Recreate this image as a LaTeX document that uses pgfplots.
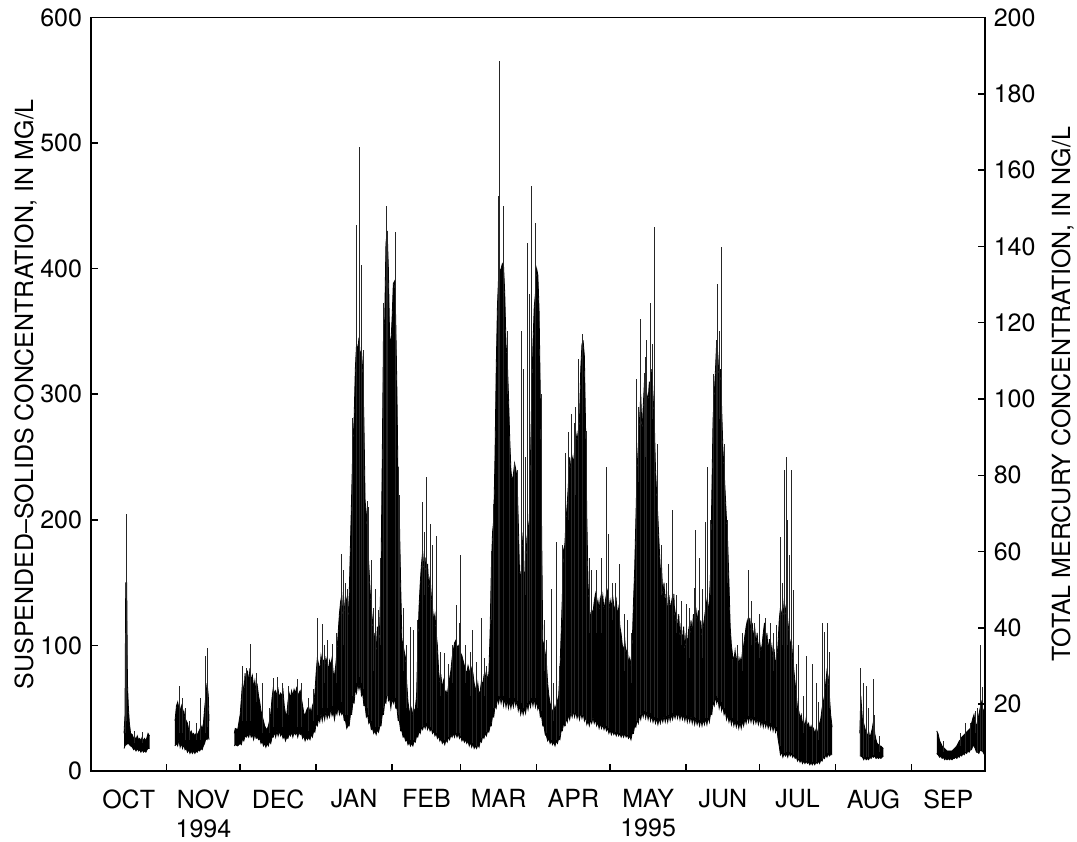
\documentclass[border=0pt]{standalone}
\usepackage{pgfplots}
\pgfplotsset{compat=1.18}
\usepackage{pgfplotstable}
\usepgfplotslibrary{fillbetween}
\usepackage{fontspec}
\setmainfont{TeX Gyre Heros}

% day of water year (0 = 1 Oct 1994), lower edge, upper edge of the dense record
\pgfplotstableread[row sep=\\]{
d lo hi\\
13.6 18 30\\ 14.0 20 45\\ 14.3 21 150\\ 14.7 21 150\\ 15.0 22 70\\ 15.4 22 50\\ 15.8 21 38\\
16.3 20 30\\ 17 19 29\\ 17.5 17 26\\ 18 18 27\\ 18.5 16 25\\ 19 18 28\\ 19.5 16 25\\ 20 17 26\\ 20.5 15 24\\
21 17 27\\ 21.5 15 24\\ 22 16 26\\ 22.5 15 24\\ 23 17 27\\ 23.4 18 30\\ 24 18 28\\
}\octdata

\pgfplotstableread[row sep=\\]{
d lo hi\\
34.4 20 40\\ 35 22 52\\ 35.5 20 55\\ 36 25 50\\ 36.5 19 48\\ 37 22 52\\ 37.5 18 45\\ 38 21 48\\
38.5 17 42\\ 39 18 40\\ 39.5 15 38\\ 40 17 33\\ 40.5 14 30\\ 41 16 32\\ 41.5 14 29\\ 42 16 30\\ 42.5 14 28\\
43 16 30\\ 43.5 15 29\\ 44 17 31\\ 44.5 16 33\\ 45 18 36\\ 45.5 17 33\\ 46 20 38\\ 46.5 22 50\\ 47 26 60\\
47.5 25 70\\ 48 28 60\\ 48.3 25 40\\
}\novdata

\pgfplotstableread[row sep=\\]{
d lo hi\\
58.6 20 30\\ 59 21 34\\ 60 20 33\\ 61 22 45\\ 61.5 21 58\\ 62 26 72\\ 62.5 24 60\\ 63 28 78\\ 63.5 27 66\\
64 29 80\\ 64.5 27 70\\ 65 31 82\\ 65.5 27 72\\ 66 29 76\\ 66.5 25 66\\ 67 30 72\\ 67.5 26 62\\ 68 27 68\\
68.5 25 60\\ 69 26 55\\ 69.5 22 48\\ 70 24 44\\ 70.5 20 40\\ 71 22 36\\ 71.5 19 34\\ 72 22 33\\ 72.5 20 36\\
73 24 40\\ 73.5 22 46\\ 74 27 58\\ 74.5 27 66\\ 75 31 62\\ 75.5 27 64\\ 76 32 60\\ 76.5 28 65\\ 77 32 58\\
77.5 28 62\\ 78 30 60\\ 78.5 26 64\\ 79 28 52\\ 79.5 24 46\\ 80 27 44\\ 80.5 26 55\\ 81 30 62\\ 81.5 28 58\\
82 31 64\\ 82.5 27 60\\ 83 31 65\\ 83.5 29 62\\ 84 31 66\\ 84.5 27 60\\ 85 31 62\\ 85.5 29 64\\ 86 30 58\\
86.5 26 52\\ 87 28 46\\ 87.5 24 44\\ 88 27 48\\ 88.5 25 50\\ 89 27 46\\ 89.5 25 50\\ 90 29 46\\ 90.5 27 52\\
91 32 55\\ 91.5 31 62\\ 92 38 78\\ 92.5 36 90\\ 93 42 85\\ 93.5 39 80\\ 94 46 92\\ 94.5 40 86\\ 95 47 88\\
95.5 41 82\\ 96 48 90\\ 96.5 42 86\\ 97 46 80\\ 97.5 43 88\\ 98 50 84\\ 98.5 44 90\\ 99 47 78\\ 99.5 41 76\\
100 48 84\\ 100.5 45 95\\ 101 52 110\\ 101.5 45 125\\ 102 48 135\\ 102.5 45 140\\ 103 47 120\\ 103.5 40 128\\
104 40 140\\ 104.5 34 135\\ 105 36 120\\ 105.5 36 140\\ 106 45 180\\ 106.5 45 220\\ 107 55 260\\ 107.5 54 280\\
108 65 320\\ 108.5 62 340\\ 109 70 335\\ 109.5 65 345\\ 110 70 330\\ 110.5 60 335\\ 111 62 320\\ 111.5 52 280\\
112 52 215\\ 112.5 43 205\\ 113 45 180\\ 113.5 38 165\\ 114 40 145\\ 114.5 33 130\\ 115 34 120\\ 115.5 30 100\\
116 32 110\\ 116.5 29 95\\ 117 33 115\\ 117.5 31 90\\ 118 36 120\\ 118.5 36 160\\ 119 45 250\\ 119.5 45 350\\
120 55 360\\ 120.5 54 420\\ 121 65 430\\ 121.5 56 400\\ 122 58 345\\ 122.5 50 340\\ 123 58 360\\ 123.5 54 388\\
124 58 390\\ 124.5 50 360\\ 125 50 300\\ 125.5 40 220\\ 126 40 200\\ 126.5 32 150\\ 127 32 105\\ 127.5 27 100\\
128 28 95\\ 128.5 24 90\\ 129 25 70\\ 129.5 21 55\\ 130 23 48\\ 130.5 20 46\\ 131 22 50\\ 131.5 20 44\\
132 24 48\\ 132.5 23 50\\ 133 28 60\\ 133.5 27 100\\ 134 32 130\\ 134.5 30 150\\ 135 35 165\\ 135.5 33 175\\
136 37 160\\ 136.5 34 170\\ 137 38 150\\ 137.5 33 165\\ 138 36 145\\ 138.5 32 155\\ 139 34 140\\ 139.5 30 130\\
140 32 120\\ 140.5 28 125\\ 141 30 110\\ 141.5 26 100\\ 142 28 80\\ 142.5 24 70\\ 143 26 75\\ 143.5 22 66\\
144 24 72\\ 144.5 21 62\\ 145 25 64\\ 145.5 23 60\\ 146 27 68\\ 146.5 25 74\\ 147 29 80\\ 147.5 27 90\\
148 30 96\\ 148.5 27 102\\ 149 31 104\\ 149.5 27 98\\ 150 30 100\\ 150.5 26 96\\ 151 28 94\\ 151.5 24 92\\
152 26 88\\ 152.5 23 84\\ 153 25 80\\ 153.5 22 78\\ 154 24 84\\ 154.5 20 80\\ 155 23 76\\ 155.5 19 82\\
156 22 78\\ 156.5 18 70\\ 157 20 66\\ 157.5 18 62\\ 158 21 70\\ 158.5 19 60\\ 159 24 64\\ 159.5 23 72\\
160 28 68\\ 160.5 26 76\\ 161 30 74\\ 161.5 28 80\\ 162 32 72\\ 162.5 31 78\\ 163 36 110\\ 163.5 36 160\\
164 44 190\\ 164.5 43 200\\ 165 52 250\\ 165.5 50 320\\ 166 58 370\\ 166.5 54 395\\ 167 60 398\\ 167.5 54 400\\
168 60 404\\ 168.5 52 402\\ 169 58 380\\ 169.5 51 340\\ 170 57 328\\ 170.5 50 300\\ 171 56 266\\ 171.5 50 240\\
172 56 230\\ 172.5 51 236\\ 173 58 245\\ 173.5 52 240\\ 174 56 234\\ 174.5 48 200\\ 175 52 160\\ 175.5 45 150\\
176 50 175\\ 176.5 45 190\\ 177 50 150\\ 177.5 46 160\\ 178 54 185\\ 178.5 49 192\\ 179 56 200\\ 179.5 51 250\\
180 58 300\\ 180.5 52 340\\ 181 58 369\\ 181.5 51 380\\ 182 56 400\\ 182.5 49 395\\ 183 52 367\\ 183.5 43 300\\
184 44 200\\ 184.5 36 104\\ 185 36 100\\ 185.5 29 94\\ 186 28 86\\ 186.5 24 70\\ 187 26 60\\ 187.5 22 54\\
188 24 50\\ 188.5 21 48\\ 189 23 46\\ 189.5 20 52\\ 190 24 48\\ 190.5 22 56\\ 191 26 60\\ 191.5 25 80\\
192 32 109\\ 192.5 32 140\\ 193 38 176\\ 193.5 36 180\\ 194 42 200\\ 194.5 39 213\\ 195 45 230\\ 195.5 41 250\\
196 47 240\\ 196.5 43 250\\ 197 48 245\\ 197.5 43 255\\ 198 48 262\\ 198.5 42 269\\ 199 46 260\\ 199.5 41 280\\
200 47 320\\ 200.5 42 340\\ 201 46 342\\ 201.5 40 330\\ 202 43 271\\ 202.5 37 200\\ 203 40 149\\ 203.5 36 130\\
204 41 122\\ 204.5 38 128\\ 205 43 126\\ 205.5 38 135\\ 206 41 141\\ 206.5 36 130\\ 207 39 136\\ 207.5 34 128\\
208 38 138\\ 208.5 34 132\\ 209 37 140\\ 209.5 33 128\\ 210 36 135\\ 210.5 32 141\\ 211 34 144\\ 211.5 30 128\\
212 33 136\\ 212.5 29 130\\ 213 32 140\\ 213.5 29 132\\ 214 31 128\\ 214.5 28 136\\ 215 31 124\\ 215.5 28 130\\
216 30 115\\ 216.5 27 109\\ 217 30 100\\ 217.5 27 96\\ 218 30 104\\ 218.5 27 92\\ 219 29 98\\ 219.5 26 86\\
220 28 90\\ 220.5 25 83\\ 221 30 100\\ 221.5 30 133\\ 222 36 160\\ 222.5 35 200\\ 223 41 240\\ 223.5 38 260\\
224 45 280\\ 224.5 41 300\\ 225 47 270\\ 225.5 43 290\\ 226 48 310\\ 226.5 42 280\\ 227 47 300\\ 227.5 41 295\\
228 46 310\\ 228.5 40 300\\ 229 44 320\\ 229.5 39 300\\ 230 43 280\\ 230.5 38 242\\ 231 42 220\\ 231.5 37 202\\
232 42 180\\ 232.5 38 160\\ 233 43 162\\ 233.5 39 140\\ 234 44 150\\ 234.5 39 130\\ 235 44 145\\ 235.5 39 122\\
236 45 140\\ 236.5 40 128\\ 237 45 135\\ 237.5 41 120\\ 238 46 141\\ 238.5 42 118\\ 239 47 130\\ 239.5 42 110\\
240 47 125\\ 240.5 41 105\\ 241 46 118\\ 241.5 41 100\\ 242 45 115\\ 242.5 40 96\\ 243 45 110\\ 243.5 39 100\\
244 44 112\\ 244.5 39 104\\ 245 44 120\\ 245.5 38 110\\ 246 43 125\\ 246.5 37 115\\ 247 42 130\\ 247.5 37 118\\
248 41 128\\ 248.5 36 110\\ 249 41 120\\ 249.5 36 105\\ 250 41 115\\ 250.5 37 122\\ 251 42 130\\ 251.5 37 136\\
252 43 128\\ 252.5 39 136\\ 253 46 160\\ 253.5 45 220\\ 254 55 280\\ 254.5 52 300\\ 255 60 320\\ 255.5 54 343\\
256 58 330\\ 256.5 50 310\\ 257 55 320\\ 257.5 48 290\\ 258 52 258\\ 258.5 45 240\\ 259 48 220\\ 259.5 41 200\\
260 45 181\\ 260.5 39 150\\ 261 43 115\\ 261.5 37 100\\ 262 42 92\\ 262.5 36 88\\ 263 40 96\\ 263.5 35 86\\
264 40 94\\ 264.5 34 84\\ 265 39 90\\ 265.5 34 86\\ 266 40 95\\ 266.5 36 100\\ 267 42 108\\ 267.5 38 115\\
268 44 120\\ 268.5 39 112\\ 269 44 122\\ 269.5 39 110\\ 270 44 118\\ 270.5 38 104\\ 271 43 115\\ 271.5 38 100\\
272 42 110\\ 272.5 37 96\\ 273 42 104\\ 273.5 36 95\\ 274 41 100\\ 274.5 35 110\\ 275 40 118\\ 275.5 35 100\\
276 39 110\\ 276.5 34 95\\ 277 38 105\\ 277.5 33 92\\ 278 38 100\\ 278.5 32 88\\ 279 37 95\\ 279.5 31 85\\
280 35 90\\ 280.5 26 100\\ 281 20 120\\ 281.5 13 130\\ 282 15 125\\ 282.5 11 120\\ 283 14 135\\ 283.5 12 130\\
284 14 115\\ 284.5 11 120\\ 285 15 110\\ 285.5 12 100\\ 286 14 105\\ 286.5 11 90\\ 287 13 80\\ 287.5 10 70\\
288 11 60\\ 288.5 8 50\\ 289 10 48\\ 289.5 7 42\\ 290 9 45\\ 290.5 6 38\\ 291 8 40\\ 291.5 6 35\\
292 8 42\\ 292.5 6 36\\ 293 7 38\\ 293.5 5 33\\ 294 7 36\\ 294.5 5 32\\ 295 7 34\\ 295.5 5 30\\
296 7 33\\ 296.5 6 30\\ 297 8 34\\ 297.5 6 38\\ 298 9 42\\ 298.5 8 50\\ 299 11 55\\ 299.5 10 60\\
300 13 70\\ 300.5 11 80\\ 301 14 75\\ 301.5 12 60\\ 302 13 45\\ 302.6 13 35\\
}\maindata

\pgfplotstableread[row sep=\\]{
d lo hi\\
313.9 12 30\\ 314.3 12 60\\ 315 11 40\\ 315.5 9 38\\ 316 11 34\\ 316.5 9 30\\ 317 10 28\\ 317.5 9 32\\
318 11 26\\ 318.5 10 30\\ 319 12 34\\ 319.5 11 40\\ 320 12 30\\ 320.5 10 25\\ 321 11 22\\ 321.5 10 21\\
322 11 20\\ 322.5 10 20\\ 323 11 19\\ 323.5 12 18\\
}\augdata

\pgfplotstableread[row sep=\\]{
d lo hi\\
345.3 14 32\\ 345.8 13 30\\ 346.5 11 24\\ 347 12 22\\ 347.5 10 20\\ 348 11 19\\ 348.5 9 18\\ 349 10 17\\
349.5 9 16\\ 350 10 16\\ 350.5 9 16\\ 351 10 16\\ 351.5 9 16\\ 352 10 17\\ 352.5 10 18\\ 353 11 19\\
353.5 10 20\\ 354 12 22\\ 354.5 11 24\\ 355 13 25\\ 355.5 12 27\\ 356 14 28\\ 356.5 13 29\\ 357 15 30\\
357.5 14 31\\ 358 16 32\\ 358.5 15 33\\ 359 17 34\\ 359.5 17 38\\ 360 20 42\\ 360.5 20 45\\ 361 18 38\\
361.5 15 36\\ 362 15 40\\ 362.5 14 45\\ 363 17 50\\ 363.5 16 55\\ 364 16 50\\ 364.5 14 48\\ 365 18 45\\
}\sepdata

% isolated peaks: each one goes from a base inside the record up to its top
\pgfplotstableread[row sep=\\]{
d y\\
14.5 40\\ 14.5 205\\ 14.5 nan\\ 14.15 30\\ 14.15 110\\ 14.15 nan\\ 18 22\\ 18 32\\ 18 nan\\ 21 22\\ 21 31\\ 21 nan\\
36.3 30\\ 36.3 68\\ 36.3 nan\\ 37.5 30\\ 37.5 58\\ 37.5 nan\\ 38.6 25\\ 38.6 50\\ 38.6 nan\\
40.5 25\\ 40.5 40\\ 40.5 nan\\ 43 25\\ 43 38\\ 43 nan\\
44.9 25\\ 44.9 58\\ 44.9 nan\\ 46.9 30\\ 46.9 92\\ 46.9 nan\\ 47.7 35\\ 47.7 98\\ 47.7 nan\\
62 40\\ 62 84\\ 62 nan\\ 63.7 40\\ 63.7 82\\ 63.7 nan\\ 65.3 40\\ 65.3 101\\ 65.3 nan\\
67.5 55\\ 67.5 78\\ 67.5 nan\\ 72.8 30\\ 72.8 50\\ 72.8 nan\\ 76.2 50\\ 76.2 75\\ 76.2 nan\\
80.8 45\\ 80.8 68\\ 80.8 nan\\ 90.8 40\\ 90.8 65\\ 90.8 nan\\
70.1 30\\ 70.1 70\\ 70.1 nan\\ 74.5 35\\ 74.5 74\\ 74.5 nan\\ 78.4 35\\ 78.4 70\\ 78.4 nan\\
84.5 35\\ 84.5 73\\ 84.5 nan\\ 86.2 35\\ 86.2 70\\ 86.2 nan\\ 88.7 32\\ 88.7 58\\ 88.7 nan\\
92.4 45\\ 92.4 122\\ 92.4 nan\\ 94.7 50\\ 94.7 117\\ 94.7 nan\\ 96.5 50\\ 96.5 104\\ 96.5 nan\\
95.5 70\\ 95.5 100\\ 95.5 nan\\ 100.2 70\\ 100.2 110\\ 100.2 nan\\ 103.2 100\\ 103.2 160\\ 103.2 nan\\
98.8 52\\ 98.8 101\\ 98.8 nan\\ 102.3 55\\ 102.3 173\\ 102.3 nan\\ 104.1 45\\ 104.1 150\\ 104.1 nan\\
104.9 45\\ 104.9 145\\ 104.9 nan\\ 106.8 60\\ 106.8 281\\ 106.8 nan\\ 108.5 70\\ 108.5 435\\ 108.5 nan\\
109.7 75\\ 109.7 497\\ 109.7 nan\\ 110.5 70\\ 110.5 403\\ 110.5 nan\\ 111.2 65\\ 111.2 335\\ 111.2 nan\\
112.8 50\\ 112.8 215\\ 112.8 nan\\ 113.5 45\\ 113.5 210\\ 113.5 nan\\ 114.6 40\\ 114.6 168\\ 114.6 nan\\
115.5 80\\ 115.5 130\\ 115.5 nan\\ 118.3 100\\ 118.3 170\\ 118.3 nan\\
116.2 35\\ 116.2 145\\ 116.2 nan\\ 117.5 35\\ 117.5 128\\ 117.5 nan\\
119.5 50\\ 119.5 373\\ 119.5 nan\\ 120.8 60\\ 120.8 450\\ 120.8 nan\\ 121.3 60\\ 121.3 430\\ 121.3 nan\\
124.2 58\\ 124.2 429\\ 124.2 nan\\ 125.5 45\\ 125.5 242\\ 125.5 nan\\ 126.2 40\\ 126.2 220\\ 126.2 nan\\
127.5 80\\ 127.5 130\\ 127.5 nan\\ 129 50\\ 129 100\\ 129 nan\\ 133.2 50\\ 133.2 120\\ 133.2 nan\\
130.5 25\\ 130.5 115\\ 130.5 nan\\ 131.8 25\\ 131.8 112\\ 131.8 nan\\
135.5 35\\ 135.5 214\\ 135.5 nan\\ 137 38\\ 137 234\\ 137 nan\\ 138.5 35\\ 138.5 197\\ 138.5 nan\\
136.2 140\\ 136.2 190\\ 136.2 nan\\ 142.8 60\\ 142.8 95\\ 142.8 nan\\ 147.5 70\\ 147.5 100\\ 147.5 nan\\
139.5 33\\ 139.5 180\\ 139.5 nan\\ 141 30\\ 141 187\\ 141 nan\\ 144.2 25\\ 144.2 94\\ 144.2 nan\\
146 27\\ 146 85\\ 146 nan\\ 149.4 30\\ 149.4 132\\ 149.4 nan\\ 150.3 30\\ 150.3 118\\ 150.3 nan\\
151 28\\ 151 172\\ 151 nan\\ 156 22\\ 156 112\\ 156 nan\\ 157.3 20\\ 157.3 87\\ 157.3 nan\\
153 70\\ 153 100\\ 153 nan\\ 155 60\\ 155 95\\ 155 nan\\ 160.5 60\\ 160.5 90\\ 160.5 nan\\
159.5 26\\ 159.5 122\\ 159.5 nan\\ 161.6 31\\ 161.6 84\\ 161.6 nan\\
163.5 120\\ 163.5 175\\ 163.5 nan\\ 170 300\\ 170 350\\ 170 nan\\ 177.5 140\\ 177.5 250\\ 177.5 nan\\
164.5 50\\ 164.5 213\\ 164.5 nan\\ 166.4 60\\ 166.4 458\\ 166.4 nan\\ 167 60\\ 167 565\\ 167 nan\\
168.3 60\\ 168.3 450\\ 168.3 nan\\ 171 58\\ 171 266\\ 171 nan\\ 173 58\\ 173 245\\ 173 nan\\
174.2 56\\ 174.2 240\\ 174.2 nan\\ 175.6 54\\ 175.6 350\\ 175.6 nan\\ 176.6 50\\ 176.6 320\\ 176.6 nan\\
178.3 54\\ 178.3 420\\ 178.3 nan\\ 179 56\\ 179 380\\ 179 nan\\ 180 58\\ 180 466\\ 180 nan\\
181.4 58\\ 181.4 436\\ 181.4 nan\\ 183.8 48\\ 183.8 300\\ 183.8 nan\\
185 80\\ 185 120\\ 185 nan\\ 189 40\\ 189 70\\ 189 nan\\ 192.5 120\\ 192.5 180\\ 192.5 nan\\
195 200\\ 195 270\\ 195 nan\\ 198 220\\ 198 290\\ 198 nan\\ 203.5 110\\ 203.5 170\\ 203.5 nan\\
186 30\\ 186 104\\ 186 nan\\ 188.2 25\\ 188.2 145\\ 188.2 nan\\ 190.2 25\\ 190.2 182\\ 190.2 nan\\
191.5 28\\ 191.5 84\\ 191.5 nan\\ 193.7 36\\ 193.7 253\\ 193.7 nan\\ 196.3 45\\ 196.3 284\\ 196.3 nan\\
197.3 46\\ 197.3 277\\ 197.3 nan\\ 199 44\\ 199 328\\ 199 nan\\ 200.8 45\\ 200.8 348\\ 200.8 nan\\
202.4 40\\ 202.4 271\\ 202.4 nan\\ 204.2 40\\ 204.2 160\\ 204.2 nan\\
206.5 110\\ 206.5 160\\ 206.5 nan\\ 208.5 110\\ 208.5 170\\ 208.5 nan\\ 213 120\\ 213 150\\ 213 nan\\
218 80\\ 218 125\\ 218 nan\\ 220.5 70\\ 220.5 110\\ 220.5 nan\\
210.6 36\\ 210.6 242\\ 210.6 nan\\ 211.2 34\\ 211.2 189\\ 211.2 nan\\ 214 31\\ 214 150\\ 214 nan\\
216 30\\ 216 165\\ 216 nan\\ 219 29\\ 219 120\\ 219 nan\\ 222.9 40\\ 222.9 312\\ 222.9 nan\\
223.5 230\\ 223.5 290\\ 223.5 nan\\ 226.5 250\\ 226.5 330\\ 226.5 nan\\ 229.2 280\\ 229.2 340\\ 229.2 nan\\
224.2 45\\ 224.2 360\\ 224.2 nan\\ 225.9 48\\ 225.9 317\\ 225.9 nan\\ 227 47\\ 227 343\\ 227 nan\\
228.3 46\\ 228.3 373\\ 228.3 nan\\ 230 43\\ 230 433\\ 230 nan\\ 231.5 42\\ 231.5 260\\ 231.5 nan\\
233 140\\ 233 180\\ 233 nan\\ 239 110\\ 239 140\\ 239 nan\\ 241 100\\ 241 135\\ 241 nan\\
244.5 90\\ 244.5 130\\ 244.5 nan\\ 249.5 90\\ 249.5 145\\ 249.5 nan\\ 253 140\\ 253 200\\ 253 nan\\
234.8 44\\ 234.8 150\\ 234.8 nan\\ 236 45\\ 236 165\\ 236 nan\\ 237.5 46\\ 237.5 208\\ 237.5 nan\\
243.3 45\\ 243.3 133\\ 243.3 nan\\ 246.3 43\\ 246.3 146\\ 246.3 nan\\ 246.7 42\\ 246.7 192\\ 246.7 nan\\
248.4 41\\ 248.4 170\\ 248.4 nan\\ 251.1 42\\ 251.1 198\\ 251.1 nan\\ 251.8 42\\ 251.8 242\\ 251.8 nan\\
254 55\\ 254 316\\ 254 nan\\ 255.2 60\\ 255.2 343\\ 255.2 nan\\ 255.9 58\\ 255.9 388\\ 255.9 nan\\
257.3 55\\ 257.3 417\\ 257.3 nan\\ 258.5 50\\ 258.5 260\\ 258.5 nan\\
256.5 280\\ 256.5 350\\ 256.5 nan\\ 260 150\\ 260 200\\ 260 nan\\ 266 80\\ 266 110\\ 266 nan\\
269.5 100\\ 269.5 135\\ 269.5 nan\\ 273 90\\ 273 125\\ 273 nan\\ 278.5 80\\ 278.5 110\\ 278.5 nan\\
262 42\\ 262 89\\ 262 nan\\ 264 40\\ 264 100\\ 264 nan\\ 268.4 44\\ 268.4 160\\ 268.4 nan\\
271 43\\ 271 118\\ 271 nan\\ 275.2 40\\ 275.2 122\\ 275.2 nan\\ 277.3 38\\ 277.3 118\\ 277.3 nan\\
279.8 35\\ 279.8 116\\ 279.8 nan\\
281.6 20\\ 281.6 186\\ 281.6 nan\\ 283 14\\ 283 240\\ 283 nan\\ 283.8 15\\ 283.8 250\\ 283.8 nan\\
285 15\\ 285 172\\ 285 nan\\ 286 14\\ 286 240\\ 286 nan\\ 287 13\\ 287 144\\ 287 nan\\
282.2 100\\ 282.2 150\\ 282.2 nan\\ 284.5 100\\ 284.5 200\\ 284.5 nan\\ 288 50\\ 288 85\\ 288 nan\\
291 30\\ 291 60\\ 291 nan\\ 297 25\\ 297 55\\ 297 nan\\ 301.5 50\\ 301.5 95\\ 301.5 nan\\
289 10\\ 289 100\\ 289 nan\\ 292.2 8\\ 292.2 92\\ 292.2 nan\\ 294.5 7\\ 294.5 85\\ 294.5 nan\\
296 7\\ 296 70\\ 296 nan\\ 298.8 10\\ 298.8 118\\ 298.8 nan\\ 299.5 12\\ 299.5 111\\ 299.5 nan\\
300.8 14\\ 300.8 118\\ 300.8 nan\\
314.3 12\\ 314.3 82\\ 314.3 nan\\ 315.5 11\\ 315.5 70\\ 315.5 nan\\ 316.5 11\\ 316.5 68\\ 316.5 nan\\
317.5 11\\ 317.5 50\\ 317.5 nan\\ 319.4 13\\ 319.4 73\\ 319.4 nan\\ 320 25\\ 320 45\\ 320 nan\\ 322 15\\ 322 28\\ 322 nan\\
348 15\\ 348 24\\ 348 nan\\ 355 20\\ 355 30\\ 355 nan\\ 361 30\\ 361 48\\ 361 nan\\
357 15\\ 357 38\\ 357 nan\\ 359 17\\ 359 38\\ 359 nan\\ 362 15\\ 362 50\\ 362 nan\\
363 17\\ 363 100\\ 363 nan\\ 364 16\\ 364 67\\ 364 nan\\ 364.6 16\\ 364.6 66\\ 364.6 nan\\
}\spikes

\begin{document}
\fontsize{12.5}{15}\selectfont
\begin{tikzpicture}
\pgfplotsset{
  common/.style={
    scale only axis, width=447.15pt, height=376.85pt,
    xmin=0, xmax=365,
    axis line style={line width=0.8pt},
    tick align=inside, major tick length=3.75pt,
    tick style={line width=0.8pt, black},
    /pgf/number format/assume math mode=true,
  }
}
\begin{axis}[common, name=ax,
  ymin=0, ymax=600, ytick={0,100,...,600}, ytick pos=left,
  xtick pos=bottom,
  xtick={31,61,92,123,151,182,212,243,273,304,335},
  xticklabels={},
  extra x ticks={15.5,46,76.5,107.5,137,166.5,197,227.5,258,288.5,319.5,350},
  extra x tick labels={OCT,{NOV\\1994},DEC,JAN,FEB,MAR,APR,{MAY\\1995},JUN,JUL,AUG,SEP},
  extra x tick style={major tick length=0pt},
  xticklabel style={align=center, inner sep=0pt, font=\fontsize{12.5}{14.5}\selectfont},
  xticklabel shift=9pt,
  ylabel={SUSPENDED--SOLIDS CONCENTRATION, IN MG/L},
  ylabel style={at={(axis description cs:-0.0645,0.5)}, anchor=base, rotate=0, inner sep=0pt},
]
\addplot[name path=oL, black, line width=0.4pt] table[x=d, y=lo] {\octdata};
\addplot[name path=oH, black, line width=0.4pt] table[x=d, y=hi] {\octdata};
\addplot[black] fill between[of=oH and oL];
\addplot[name path=nL, black, line width=0.4pt] table[x=d, y=lo] {\novdata};
\addplot[name path=nH, black, line width=0.4pt] table[x=d, y=hi] {\novdata};
\addplot[black] fill between[of=nH and nL];
\addplot[name path=mL, black, line width=0.4pt] table[x=d, y=lo] {\maindata};
\addplot[name path=mH, black, line width=0.4pt] table[x=d, y=hi] {\maindata};
\addplot[black] fill between[of=mH and mL];
\addplot[name path=aL, black, line width=0.4pt] table[x=d, y=lo] {\augdata};
\addplot[name path=aH, black, line width=0.4pt] table[x=d, y=hi] {\augdata};
\addplot[black] fill between[of=aH and aL];
\addplot[name path=sL, black, line width=0.4pt] table[x=d, y=lo] {\sepdata};
\addplot[name path=sH, black, line width=0.4pt] table[x=d, y=hi] {\sepdata};
\addplot[black] fill between[of=sH and sL];
\addplot[black!85, line width=0.45pt, unbounded coords=jump] table[x=d, y=y] {\spikes};
\end{axis}
\begin{axis}[common,
  ymin=2.5, ymax=200, ytick={20,40,...,200},
  axis y line*=right, axis x line=none,
  ylabel={TOTAL MERCURY CONCENTRATION, IN NG/L},
  ylabel style={at={(axis description cs:1.0951,0.5)}, anchor=base, inner sep=0pt},
]
\end{axis}
\path ([xshift=-45.35pt, yshift=-35.15pt]ax.south west) rectangle ([xshift=46pt, yshift=8.5pt]ax.north east);
\end{tikzpicture}
\end{document}
